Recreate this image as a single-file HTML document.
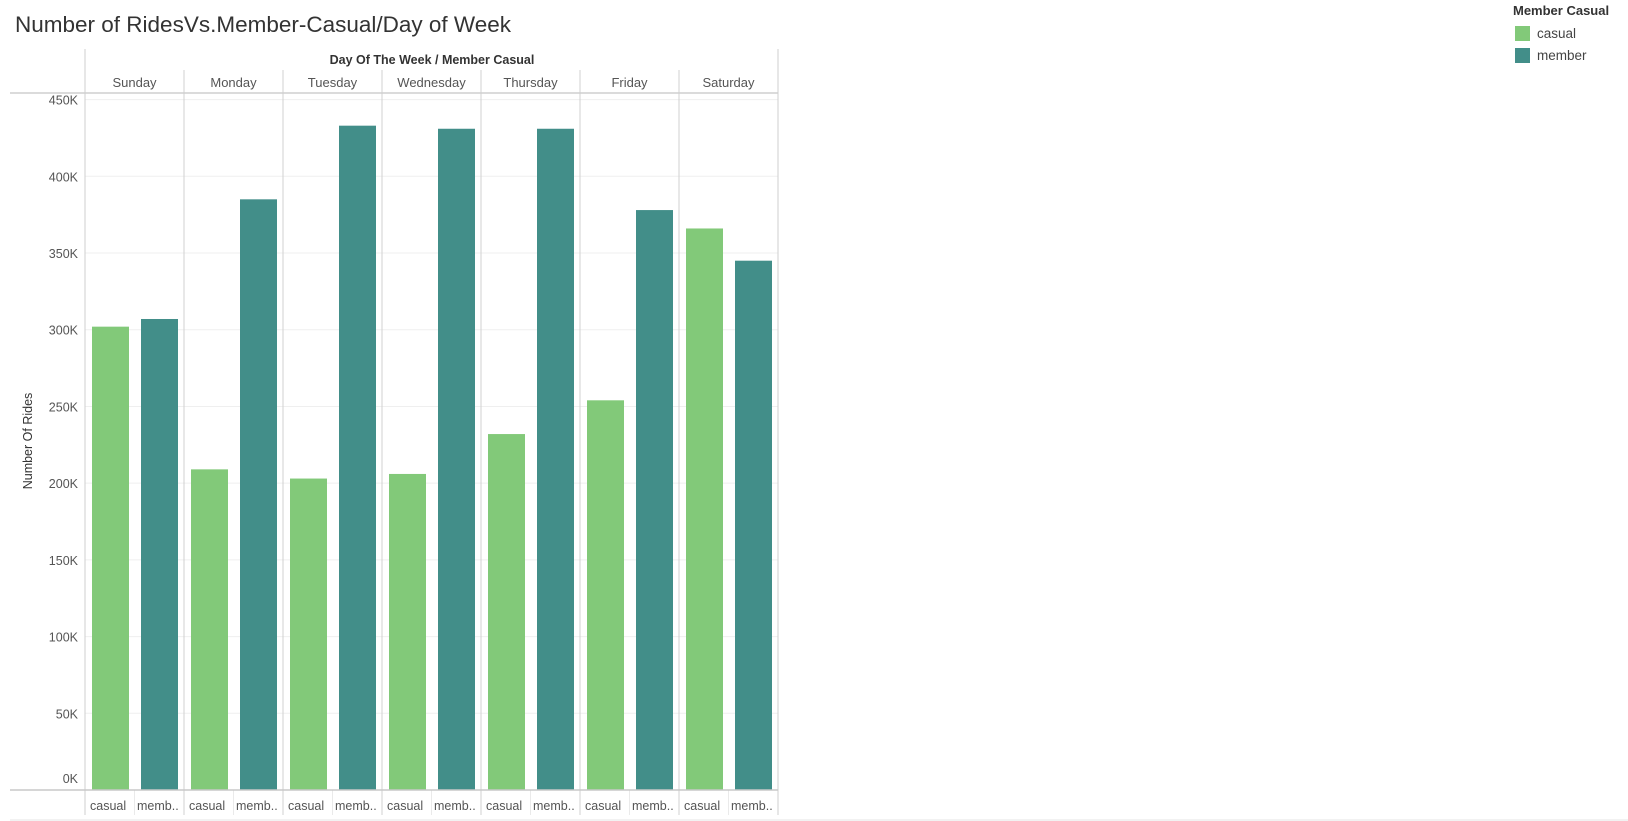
<!DOCTYPE html>
<html><head><meta charset="utf-8"><style>
body{margin:0;background:#fff;font-family:"Liberation Sans","DejaVu Sans",sans-serif;}
svg{display:block}
</style></head><body>
<svg id="chart" width="1628" height="821" xmlns="http://www.w3.org/2000/svg">
<text x="15" y="32" font-size="22.5" fill="#333" font-family="Liberation Sans, sans-serif">Number of RidesVs.Member-Casual/Day of Week</text>
<text x="432" y="64" font-size="12.5" font-weight="bold" fill="#333" text-anchor="middle">Day Of The Week / Member Casual</text>
<text transform="translate(32,441) rotate(-90)" font-size="12.5" fill="#333" text-anchor="middle">Number Of Rides</text>
<g>
<text x="1513" y="15" font-size="13" font-weight="bold" fill="#333">Member Casual</text>
<rect x="1515" y="26" width="15" height="15" fill="#82c979"/>
<text x="1537" y="38" font-size="13.5" fill="#444">casual</text>
<rect x="1515" y="48" width="15" height="15" fill="#428e89"/>
<text x="1537" y="60" font-size="13.5" fill="#444">member</text>
</g>
<g id="plot"></g>
</svg>
<script>
const days = ["Sunday","Monday","Tuesday","Wednesday","Thursday","Friday","Saturday"];
const casualValues = [302,209,203,206,232,254,366];
const memberValues = [307,385,433,431,431,378,345];
const yTicks = [0,50,100,150,200,250,300,350,400,450];
const yTickLabels = ["0K","50K","100K","150K","200K","250K","300K","350K","400K","450K"];
const subLabels = ["casual","memb.."];

const NS="http://www.w3.org/2000/svg";
const g=document.getElementById('plot');
const L=85,R=778,Y0=790,Y450=99.6,TOP=49,HDR=93;
const pw=(R-L)/days.length;
function y(v){return Y0-(v/450)*(Y0-Y450);}
function px(i){return L+i*pw;}
function mk(tag,attrs){const e=document.createElementNS(NS,tag);for(const k in attrs)e.setAttribute(k,attrs[k]);g.appendChild(e);return e;}

yTicks.forEach((t,i)=>{
  if(t>0){const l=mk('line',{x1:L,x2:R,y1:y(t),y2:y(t),stroke:'#efefef','stroke-width':1});
  
  }
  const ly = t===0 ? y(t)-7 : y(t)+5;
  const tx=mk('text',{x:78,y:ly,'font-size':12.5,fill:'#555','text-anchor':'end'});
  tx.textContent=yTickLabels[i];
  
  
});

days.forEach((d,i)=>{
  const x0=px(i);
  const c=mk('rect',{x:x0+7,y:y(casualValues[i]),width:37,height:Y0-y(casualValues[i]),fill:'#82c979'});
  
  
  const m=mk('rect',{x:x0+56,y:y(memberValues[i]),width:37,height:Y0-y(memberValues[i]),fill:'#428e89'});
  
  
  const dl=mk('text',{x:x0+pw/2,y:87,'font-size':13,fill:'#555','text-anchor':'middle'});
  dl.textContent=d;
  
  
  subLabels.forEach((s,j)=>{
    const st=mk('text',{x:x0+5+j*47,y:810,'font-size':12.5,fill:'#555'});
    st.textContent=s;
    
    
  });
  if(i>0){const v=mk('line',{x1:x0,x2:x0,y1:70,y2:815,stroke:'#d0d0d0','stroke-width':1});
  
  }
  const sd=mk('line',{x1:x0+pw/2,x2:x0+pw/2,y1:Y0,y2:815,stroke:'#eaeaea','stroke-width':1});
  
  
});
[[L,TOP,L,815],[R,TOP,R,815]].forEach(a=>{const l=mk('line',{x1:a[0],y1:a[1],x2:a[2],y2:a[3],stroke:'#cfcfcf','stroke-width':1});

});
const hl=mk('line',{x1:10,x2:R,y1:HDR,y2:HDR,stroke:'#cfcfcf','stroke-width':1.5});


const bl=mk('line',{x1:10,x2:R,y1:Y0,y2:Y0,stroke:'#c8c8c8','stroke-width':1.5});


const fl=mk('line',{x1:10,x2:1628,y1:820,y2:820,stroke:'#eeeeee','stroke-width':1.5});


</script>
</body></html>
